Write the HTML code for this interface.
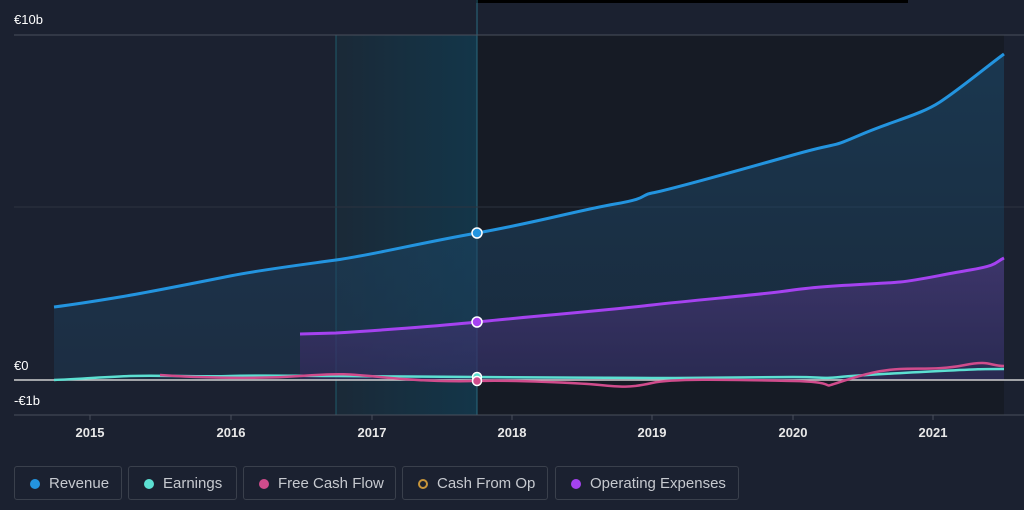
<!DOCTYPE html><html><head><style>
body{margin:0;background:#1b2130;width:1024px;height:510px;overflow:hidden;font-family:"Liberation Sans",sans-serif}
.lg{position:absolute;top:466px;height:34px;border:1px solid #3a404c;border-radius:3px;box-sizing:border-box;color:#c6c9cf;font-size:15px;line-height:34px;padding-left:34px}
.lg i{position:absolute;left:15px;top:12px;width:10px;height:10px;border-radius:50%}
</style></head><body>
<svg width="1024" height="510" style="position:absolute;left:0;top:0">
<defs>
<linearGradient id="hl" x1="0" x2="1"><stop offset="0" stop-color="#1a2a38"/><stop offset="1" stop-color="#12384c"/></linearGradient>
<linearGradient id="rf" x1="0" y1="0" x2="0" y2="1"><stop offset="0" stop-color="#1e4e72" stop-opacity=".55"/><stop offset="1" stop-color="#1c3a55" stop-opacity=".5"/></linearGradient>
<linearGradient id="of" x1="0" y1="0" x2="0" y2="1"><stop offset="0" stop-color="#5a3a8a" stop-opacity=".55"/><stop offset="1" stop-color="#3a2a66" stop-opacity=".5"/></linearGradient>
</defs>
<rect x="477" y="35" width="527" height="380" fill="#161b25"/>
<rect x="336" y="35" width="141" height="380" fill="url(#hl)" opacity=".9"/>
<rect x="476" y="0" width="432" height="3" fill="#000"/>
<line x1="477" y1="0" x2="477" y2="415" stroke="#2a6a80" stroke-width="1"/>
<line x1="336" y1="35" x2="336" y2="415" stroke="#1f5a6a" stroke-width="1"/>
<line x1="14" y1="35" x2="1024" y2="35" stroke="#4a505c"/>
<line x1="14" y1="207" x2="1024" y2="207" stroke="#2c3340"/>
<line x1="14" y1="415" x2="1024" y2="415" stroke="#4a505c"/>
<path d="M54,307 C70,305 90,302 120,297 S200,282 230,276 S300,265 336,260 S420,243 477,233 S580,210 615,204 S640,195 652,193 S740,170 793,155 S825,150 860,135 S920,115 940,102 S990,64 1004,54 L1004,380 L54,380Z" fill="url(#rf)"/>
<path d="M300,334 L336,333 C370,331 440,326 477,322 S600,311 652,305 S760,295 793,290 S880,284 900,282 S940,275 970,270 S995,262 1004,258 L1004,380 L300,380Z" fill="url(#of)"/>
<line x1="14" y1="380" x2="1024" y2="380" stroke="#d0d0d0" stroke-width="1.5"/>
<path d="M54,307 C70,305 90,302 120,297 S200,282 230,276 S300,265 336,260 S420,243 477,233 S580,210 615,204 S640,195 652,193 S740,170 793,155 S825,150 860,135 S920,115 940,102 S990,64 1004,54" fill="none" stroke="#2394df" stroke-width="3"/>
<path d="M300,334 L336,333 C370,331 440,326 477,322 S600,311 652,305 S760,295 793,290 S880,284 900,282 S940,275 970,270 S995,262 1004,258" fill="none" stroke="#a542f0" stroke-width="3"/>
<path d="M54,380 C80,379 100,377 130,376 S200,377 230,376 S300,376 336,376 S440,377 477,377 S600,378 652,378 S760,377 793,377 S820,379 840,377 S900,373 940,371 S980,369 1004,369" fill="none" stroke="#5ce0d2" stroke-width="2.5"/>
<path d="M160,375 C200,378 260,379 300,376 S350,374 380,377 S440,382 477,381 S580,383 600,385 S630,388 652,383 S740,380 793,381 S815,390 840,382 S880,370 900,369 S940,370 965,365 S990,366 1004,366" fill="none" stroke="#d04c8c" stroke-width="2.5"/>
<circle cx="477" cy="233" r="5" fill="#2394df" stroke="#fff" stroke-width="1.5"/>
<circle cx="477" cy="322" r="5" fill="#a542f0" stroke="#fff" stroke-width="1.5"/>
<circle cx="477" cy="377" r="4.5" fill="#5ce0d2" stroke="#fff" stroke-width="1.5"/>
<circle cx="477" cy="381" r="4.5" fill="#d04c8c" stroke="#fff" stroke-width="1.5"/>
<g fill="#ffffff" font-size="13" font-family="Liberation Sans, sans-serif">
<text x="14" y="24">€10b</text><text x="14" y="370">€0</text><text x="14" y="405">-€1b</text>
</g>
<g stroke="#4a505c"><line x1="90" y1="415" x2="90" y2="420"/><line x1="231" y1="415" x2="231" y2="420"/><line x1="372" y1="415" x2="372" y2="420"/><line x1="512" y1="415" x2="512" y2="420"/><line x1="652" y1="415" x2="652" y2="420"/><line x1="793" y1="415" x2="793" y2="420"/><line x1="933" y1="415" x2="933" y2="420"/></g>
<g fill="#e8e8e8" font-size="13" font-weight="bold" text-anchor="middle" font-family="Liberation Sans, sans-serif">
<text x="90" y="437">2015</text><text x="231" y="437">2016</text><text x="372" y="437">2017</text><text x="512" y="437">2018</text><text x="652" y="437">2019</text><text x="793" y="437">2020</text><text x="933" y="437">2021</text>
</g>
</svg>
<div class="lg" style="left:14px;width:108px"><i style="background:#2394df"></i>Revenue</div>
<div class="lg" style="left:128px;width:109px"><i style="background:#5ce0d2"></i>Earnings</div>
<div class="lg" style="left:243px;width:153px"><i style="background:#d04c8c"></i>Free Cash Flow</div>
<div class="lg" style="left:402px;width:146px"><i style="border:2px solid #c8953a;box-sizing:border-box"></i>Cash From Op</div>
<div class="lg" style="left:555px;width:184px"><i style="background:#a542f0"></i>Operating Expenses</div>
</body></html>
